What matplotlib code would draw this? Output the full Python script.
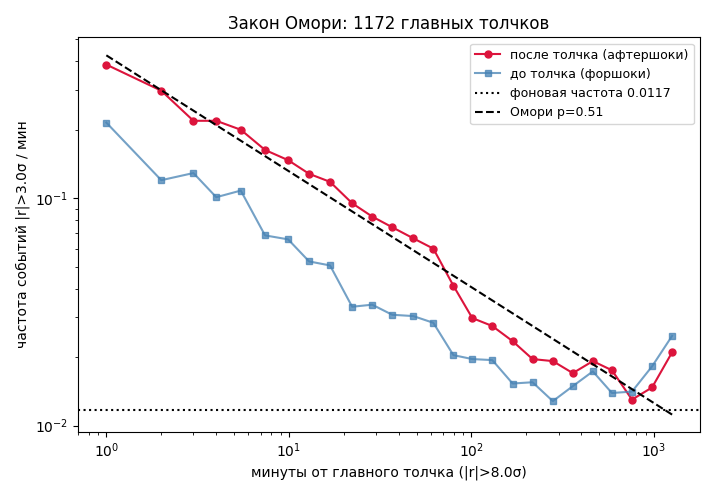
import numpy as np
import matplotlib.pyplot as plt

# minutes from main shock (bin centres)
minutes = [1, 2, 3, 4, 5.45, 7.4, 9.9, 12.9, 16.8, 22.2, 28.6, 36.8, 48, 61.8, 79.6,
           101, 130, 168, 216, 279, 359, 462, 588, 757, 975, 1256]
after_rate = [0.387, 0.297, 0.219, 0.219, 0.200, 0.163, 0.147, 0.128, 0.118, 0.095,
              0.083, 0.0745, 0.0666, 0.060, 0.0412, 0.0297, 0.0274, 0.0235, 0.0196,
              0.0192, 0.0170, 0.0192, 0.0175, 0.0130, 0.0147, 0.021]
fore_rate = [0.215, 0.120, 0.129, 0.101, 0.108, 0.0686, 0.0659, 0.0527, 0.0506, 0.0333,
             0.034, 0.0307, 0.0303, 0.0283, 0.0204, 0.0196, 0.0194, 0.0153, 0.0155,
             0.0128, 0.0149, 0.0173, 0.0139, 0.0141, 0.0182, 0.0248]
background = 0.0117
omori_K = 0.425
omori_p = 0.51

fig, ax = plt.subplots(figsize=(7.15, 4.95), dpi=100)
ax.plot(minutes, after_rate, '-o', color='crimson', ms=5, lw=1.5, label='после толчка (афтершоки)')
ax.plot(minutes, fore_rate, '-s', color='steelblue', alpha=0.75, ms=5, lw=1.5, label='до толчка (форшоки)')
ax.axhline(background, color='black', ls=':', lw=1.5, label=f'фоновая частота {background}')
t = np.array([minutes[0], minutes[-1]])
ax.plot(t, omori_K * t ** (-omori_p), '--', color='black', lw=1.5, label=f'Омори p={omori_p}')

ax.set_xscale('log')
ax.set_yscale('log')
ax.set_xlim(0.70, 1785)
ax.set_ylim(0.0094, 0.51)
ax.set_title('Закон Омори: 1172 главных толчков')
ax.set_xlabel('минуты от главного толчка (|r|>8.0σ)')
ax.set_ylabel('частота событий |r|>3.0σ / мин')
ax.legend(loc='upper right', fontsize=9)
plt.tight_layout()
plt.savefig('out.png', dpi=100)
